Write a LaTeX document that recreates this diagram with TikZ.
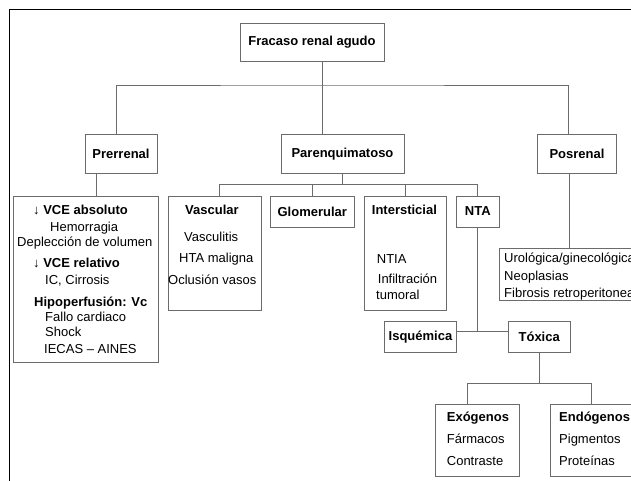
\documentclass[tikz,border=0pt]{standalone}
\usepackage{fontspec}
\setmainfont{Liberation Sans}
\usetikzlibrary{positioning}
\definecolor{boxgray}{gray}{0.42}

\begin{document}
\begin{tikzpicture}[
    x=1pt, y=-1pt,
    box/.style={rectangle, draw=boxgray, line width=0.9pt, inner sep=0pt, font=\fontsize{13}{15}\selectfont\bfseries},
    txt/.style={inner sep=0pt, anchor=west, text height=9.4pt, text depth=2.7pt, font=\fontsize{13}{15}\selectfont},
    head/.style={txt, font=\fontsize{13}{15}\selectfont\bfseries},
    link/.style={draw=boxgray, line width=0.9pt}
]
\useasboundingbox (0,0) rectangle (631,481);
\clip (0,0) rectangle (631,481);

% outer frame
\draw[black, line width=1.2pt] (9.5,9.5) rectangle (700,520);

% Top levels
\node[box, minimum width=144pt, minimum height=38pt] (fracaso) at (312,42) {Fracaso renal agudo};
\node[box, minimum width=72pt, minimum height=38.5pt] (prerrenal) at (121,154) {Prerrenal};
\node[box, minimum width=123pt, minimum height=38.5pt] (parenq) at (342.5,154) {Parenquimatoso};
\node[box, minimum width=78.5pt, minimum height=38.5pt] (posrenal) at (577,154) {Posrenal};

% Prerrenal causes
\node[box, minimum width=145pt, minimum height=166pt] (prebox) at (85.5,279) {};
\node[head] (vceabs) at (33,211) {{\mdseries\char"2193}\ VCE absoluto};
\node[txt] (hemorragia) at (50,227.7) {Hemorragia};
\node[txt] (deplecion) at (17,242.7) {Deplección de volumen};
\node[head] (vcerel) at (33,264.3) {{\mdseries\char"2193}\ VCE relativo};
\node[txt] (cirrosis) at (45,280.7) {IC, Cirrosis};
\node[head] (hipoperf) at (34,302.7) {Hipoperfusión: Vc};
\node[txt] (fallo) at (45,317.7) {Fallo cardiaco};
\node[txt] (shock) at (45,333.3) {Shock};
\node[txt] (iecas) at (44,350) {IECAS -- AINES};

% Parenquimatoso branches
\node[box, minimum width=93pt, minimum height=114pt] (vascular) at (214.5,253) {};
\node[head] (vasctit) at (185,211) {Vascular};
\node[txt] (vasculitis) at (184,238.3) {Vasculitis};
\node[txt] (hta) at (179,259.3) {HTA maligna};
\node[txt] (oclusion) at (168,280.7) {Oclusión vasos};

\node[box, minimum width=83.3pt, minimum height=31pt] (glomerular) at (312.3,211.5) {Glomerular};

\node[box, minimum width=82.7pt, minimum height=114.7pt] (intersticial) at (405.3,253.3) {};
\node[head] (intertit) at (371.7,211) {Intersticial};
\node[txt] (ntia) at (376.7,260) {NTIA};
\node[txt] (infiltr) at (377.7,280) {Infiltración};
\node[txt] (tumoral) at (376,295.7) {tumoral};

\node[box, minimum width=42.3pt, minimum height=31pt] (nta) at (477.8,211.5) {NTA};

% Posrenal causes
\node[box, minimum width=161pt, minimum height=52pt] (posbox) at (579.5,274) {};
\node[txt] (urolog) at (504,259) {Urológica/ginecológica};
\node[txt] (neoplas) at (504,276.7) {Neoplasias};
\node[txt] (fibrosis) at (504,294) {Fibrosis retroperitoneal};

% NTA types
\node[box, minimum width=72.4pt, minimum height=31.3pt] (isquemica) at (420.5,336.7) {Isquémica};
\node[box, minimum width=61.7pt, minimum height=31.3pt] (toxica) at (539.2,336.7) {Tóxica};

\node[box, minimum width=83.6pt, minimum height=72.7pt] (exogenos) at (477.5,440.3) {};
\node[head] (exotit) at (446.7,418.3) {Exógenos};
\node[txt] (farmacos) at (446.7,440) {Fármacos};
\node[txt] (contraste) at (446.7,461.7) {Contraste};

\node[box, minimum width=90pt, minimum height=72.7pt] (endogenos) at (595,440.3) {};
\node[head] (endotit) at (559,418.3) {Endógenos};
\node[txt] (pigment) at (559,440) {Pigmentos};
\node[txt] (proteinas) at (559,461.7) {Proteínas};

% connectors
\coordinate (bus) at (322.5,85);
\draw[link] ([xshift=10.5pt]fracaso.south) -- ([xshift=10.5pt]fracaso.south |- parenq.north);
\draw[link] ([xshift=-4.5pt]prerrenal.north) |- (bus) -| ([xshift=-9pt]posrenal.north);
\draw[link] ([xshift=-25pt]prerrenal.south) -- ([xshift=-25pt]prerrenal.south |- prebox.north);
\draw[link] ([xshift=-7.5pt]posrenal.south) -- ([xshift=-7.5pt]posrenal.south |- posbox.north);

\draw[link] (parenq.south) -- ++(0,11) coordinate (pbus);
\draw[link] ([xshift=4.5pt]vascular.north) |- (pbus) -| (nta.north);
\draw[link] (glomerular.north) -- (glomerular.north |- pbus);
\draw[link] (intersticial.north) -- (intersticial.north |- pbus);

\path ([yshift=5pt]toxica.west) coordinate (nbus);
\draw[link] ([yshift=5pt]isquemica.east) -- (nbus);
\draw[link] (nta.south) -- (nta.south |- nbus);

\draw[link] (toxica.south) -- ++(0,31) coordinate (tjoin);
\draw[link] ([xshift=-10.2pt]exogenos.north) |- (tjoin) -| ([xshift=-4pt]endogenos.north);

\end{tikzpicture}
\end{document}
